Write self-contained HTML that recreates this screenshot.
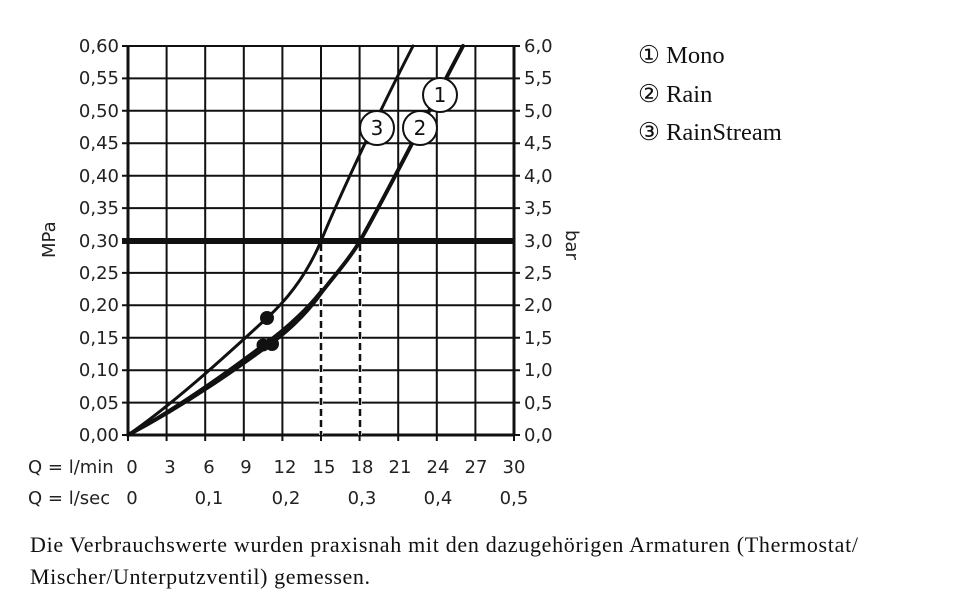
<!DOCTYPE html>
<html><head><meta charset="utf-8"><style>
body{margin:0;background:#fff;width:960px;height:612px;overflow:hidden}
</style></head><body>
<svg width="960" height="612" xmlns="http://www.w3.org/2000/svg" style="position:absolute;left:0;top:0">
<g stroke="#111" stroke-width="2" fill="none">
<path d="M128,46V435M166.6,46V435M205.2,46V435M243.8,46V435M282.4,46V435M321,46V435M359.6,46V435M398.2,46V435M436.8,46V435M475.4,46V435M514,46V435"/>
<path d="M122,46H520M122,78.4H520M122,110.8H520M122,143.3H520M122,175.7H520M122,208.1H520M122,272.9H520M122,305.3H520M122,337.8H520M122,370.2H520M122,402.6H520M122,435H520"/>
<path d="M128,435v6M166.6,435v6M205.2,435v6M243.8,435v6M282.4,435v6M321,435v6M359.6,435v6M398.2,435v6M436.8,435v6M475.4,435v6M514,435v6"/>
</g>
<line x1="128" y1="435" x2="514" y2="435" stroke="#111" stroke-width="3"/>
<line x1="128" y1="46" x2="128" y2="435" stroke="#111" stroke-width="3"/>
<line x1="514" y1="46" x2="514" y2="435" stroke="#111" stroke-width="3"/>
<line x1="122" y1="241" x2="514" y2="241" stroke="#111" stroke-width="6"/>
<g stroke="#fff" stroke-width="4"><line x1="321" y1="244" x2="321" y2="435"/><line x1="360" y1="244" x2="360" y2="435"/></g>
<g stroke="#111" stroke-width="2.5" stroke-dasharray="7,4"><line x1="321" y1="244" x2="321" y2="435"/><line x1="360" y1="244" x2="360" y2="435"/></g>
<g fill="none" stroke="#111" stroke-linecap="round" stroke-linejoin="round">
<path d="M128,435 C180,399 235,347 267,318 C290,297 308,272 321,241 C340,195 380,110 413,46" stroke-width="3"/>
<path d="M128,435 C190,402 240,366 270,344 C295,326 312,306 321,293 C335,275 350,258 360,241 C385,197 425,118 463,46" stroke-width="4"/>
<path d="M128,435 C185,403 235,366 263,345 C290,326 310,305 321,291" stroke-width="3"/>
</g>
<g fill="#111"><circle cx="267" cy="318" r="7"/><circle cx="263" cy="345" r="6.5"/><circle cx="272" cy="344" r="7"/></g>
<g fill="#fff" stroke="#111" stroke-width="2">
<circle cx="440" cy="95" r="17"/><circle cx="377" cy="128" r="17"/><circle cx="420" cy="128" r="17"/>
</g>
<g font-family="'DejaVu Sans','Liberation Sans',sans-serif" font-size="20" fill="#111" text-anchor="middle">
<text x="440" y="102">1</text><text x="377" y="135">3</text><text x="420" y="135">2</text>
</g>
<g font-family="'DejaVu Sans','Liberation Sans',sans-serif" font-size="18" fill="#222" text-anchor="end">
<text x="119" y="52">0,60</text><text x="119" y="84">0,55</text><text x="119" y="117">0,50</text><text x="119" y="149">0,45</text><text x="119" y="182">0,40</text><text x="119" y="214">0,35</text><text x="119" y="247">0,30</text><text x="119" y="279">0,25</text><text x="119" y="311">0,20</text><text x="119" y="344">0,15</text><text x="119" y="376">0,10</text><text x="119" y="409">0,05</text><text x="119" y="441">0,00</text>
</g>
<g font-family="'DejaVu Sans','Liberation Sans',sans-serif" font-size="18" fill="#222">
<text x="524" y="52">6,0</text><text x="524" y="84">5,5</text><text x="524" y="117">5,0</text><text x="524" y="149">4,5</text><text x="524" y="182">4,0</text><text x="524" y="214">3,5</text><text x="524" y="247">3,0</text><text x="524" y="279">2,5</text><text x="524" y="311">2,0</text><text x="524" y="344">1,5</text><text x="524" y="376">1,0</text><text x="524" y="409">0,5</text><text x="524" y="441">0,0</text>
<text transform="translate(55,258) rotate(-90)">MPa</text>
<text transform="translate(566,230) rotate(90)">bar</text>
<text x="28" y="473">Q = l/min</text><text x="28" y="504">Q = l/sec</text>
</g>
<g font-family="'DejaVu Sans','Liberation Sans',sans-serif" font-size="18" fill="#222" text-anchor="middle">
<text x="132" y="473">0</text><text x="170" y="473">3</text><text x="209" y="473">6</text><text x="246" y="473">9</text><text x="285" y="473">12</text><text x="324" y="473">15</text><text x="362" y="473">18</text><text x="400" y="473">21</text><text x="438" y="473">24</text><text x="476" y="473">27</text><text x="514" y="473">30</text>
<text x="132" y="504">0</text><text x="209" y="504">0,1</text><text x="286" y="504">0,2</text><text x="362" y="504">0,3</text><text x="438" y="504">0,4</text><text x="514" y="504">0,5</text>
</g>
<g font-family="'Liberation Serif',serif" font-size="24.5" fill="#111">
<text x="638" y="63">① Mono</text><text x="638" y="102">② Rain</text><text x="638" y="140">③ RainStream</text>
</g>
<g font-family="'Liberation Serif',serif" font-size="22" fill="#111">
<text x="30" y="552" textLength="828">Die Verbrauchswerte wurden praxisnah mit den dazugehörigen Armaturen (Thermostat/</text>
<text x="30" y="584" textLength="340">Mischer/Unterputzventil) gemessen.</text>
</g>
</svg>
</body></html>
